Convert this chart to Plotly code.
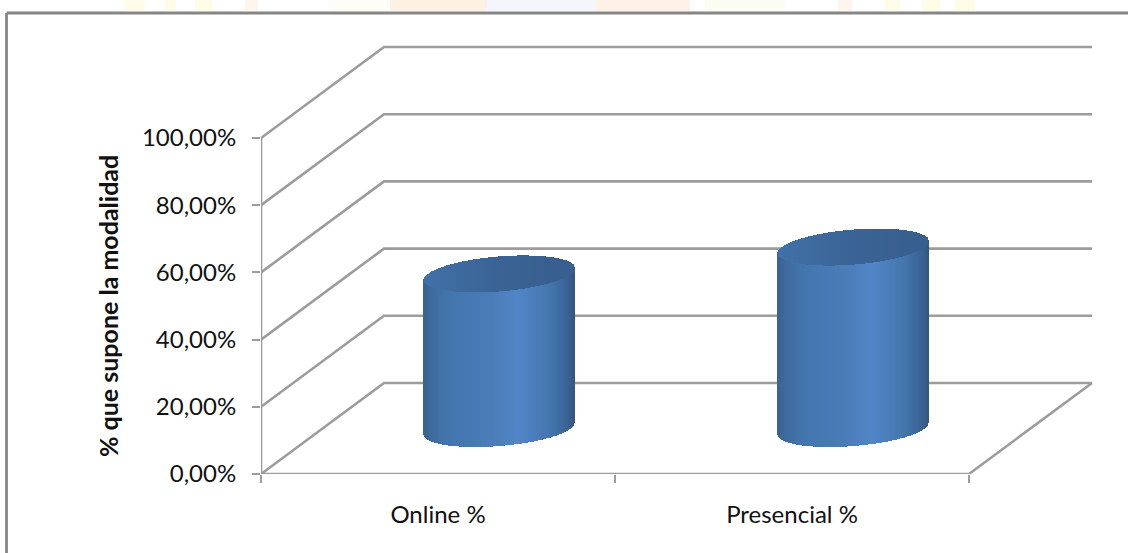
import numpy as np
import plotly.graph_objects as go

categories = ["Online %", "Presencial %"]
values = [46, 54]
y_ticks = [0, 20, 40, 60, 80, 100]
y_labels = ["0,00%", "20,00%", "40,00%", "60,00%", "80,00%", "100,00%"]
y_title = "% que supone la modalidad"

W, H = 1128, 553
# pixel frame of the plot
L, R, T, B = 261, 1100, 30, 474
PX_X = 354.0   # px per category
PX_Y = 3.36    # px per percent
DX = 123 / PX_X   # oblique depth offset
DY = 91 / PX_Y
A = 75 / PX_X
K = 6 / PX_Y
E = 17.5 / PX_Y
GRID = "#9c9c9c"
FONT = "Lato"
TEXT = "#111111"

x_range = [0, (R - L) / PX_X]
y_range = [0, (B - T) / PX_Y]
n_cat = len(categories)

body_stops = [(0, (60, 98, 142)), (.04, (62, 105, 154)), (.15, (67, 117, 173)), (.5, (76, 127, 187)),
              (.63, (82, 134, 200)), (.85, (68, 117, 172)), (.96, (58, 98, 146)), (1, (52, 88, 130))]
top_stops = [(0, (66, 114, 170)), (.3, (61, 105, 156)), (.6, (58, 98, 146)), (1, (56, 95, 142))]


def ramp(stops, s):
    ps = [p for p, _ in stops]
    return "rgb(%d,%d,%d)" % tuple(np.interp(s, ps, [c[i] for _, c in stops]) for i in range(3))


fig = go.Figure()

# walls and floor, on the main axes
for v in y_ticks:
    fig.add_trace(go.Scatter(x=[0, DX, n_cat + DX], y=[v, v + DY, v + DY], mode="lines",
                             line=dict(color=GRID, width=2.6), cliponaxis=False, hoverinfo="skip"))
fig.add_trace(go.Scatter(x=[0, 0], y=[0, y_ticks[-1]], mode="lines", line=dict(color=GRID, width=2.6),
                         cliponaxis=False, hoverinfo="skip"))
fig.add_trace(go.Scatter(x=[0, n_cat, n_cat + DX], y=[0, 0, DY], mode="lines",
                         line=dict(color=GRID, width=2.6), cliponaxis=False, hoverinfo="skip"))

# cylinders on an overlaid pair of axes, so they sit above the grid
u = np.linspace(-1, 1, 170)
step = A * (u[1] - u[0])
arc = np.sqrt(np.clip(1 - u ** 2, 0, 1))
for i, v in enumerate(values):
    cx = i + 0.5 + DX / 2
    cy0 = DY / 2
    cy1 = cy0 + v
    low0 = cy0 + K * u - E * arc
    low1 = cy1 + K * u - E * arc
    hi1 = cy1 + K * u + E * arc
    s = (u + 1) / 2
    fig.add_trace(go.Bar(x=cx + A * u, base=low0, y=low1 - low0 + 0.3, width=step * 1.4,
                         marker=dict(color=[ramp(body_stops, t) for t in s], line=dict(width=0)),
                         xaxis="x2", yaxis="y2", hoverinfo="skip"))
    fig.add_trace(go.Bar(x=cx + A * u, base=low1, y=hi1 - low1, width=step * 1.4,
                         marker=dict(color=[ramp(top_stops, t) for t in s], line=dict(width=0)),
                         xaxis="x2", yaxis="y2", hoverinfo="skip"))


def px(x):
    return (x - L) / (R - L)


def py(y):
    return (B - y) / (B - T)


shapes = []
# faint artwork showing above the frame
for x0, x1, c in [(125, 145, "#fefbe6"), (165, 176, "#fefbe6"), (195, 212, "#fefbe6"), (245, 258, "#fef6ec"),
                  (330, 390, "#fefdf8"), (390, 487, "#fdf1e4"), (487, 595, "#f4f5fd"), (595, 690, "#fdf1e8"),
                  (705, 785, "#fbfdf3"), (838, 852, "#fef5ec"), (885, 900, "#fefbe6"), (922, 940, "#fefbe6"),
                  (955, 975, "#fefbe6")]:
    shapes.append(dict(type="rect", xref="paper", yref="paper", x0=px(x0), x1=px(x1), y0=py(0), y1=py(11),
                       fillcolor=c, line=dict(width=0), layer="below"))
# chart frame
FR = "#858585"
shapes.append(dict(type="line", xref="paper", yref="paper", x0=px(6.5), x1=px(1130), y0=py(13), y1=py(13),
                   line=dict(color=FR, width=2.8)))
shapes.append(dict(type="line", xref="paper", yref="paper", x0=px(6.5), x1=px(6.5), y0=py(13), y1=py(556),
                   line=dict(color=FR, width=2.8)))

fig.update_layout(
    width=W, height=H,
    margin=dict(l=L, r=W - R, t=T, b=H - B, pad=0),
    paper_bgcolor="white", plot_bgcolor="rgba(0,0,0,0)",
    showlegend=False, barmode="overlay", bargap=0, hovermode=False,
    shapes=shapes,
    font=dict(family=FONT, color=TEXT, size=24),
    annotations=[dict(text="<b>" + y_title + "</b>", xref="paper", yref="paper", x=px(108), y=py(306),
                      xanchor="center", yanchor="middle", textangle=-90, showarrow=False,
                      font=dict(family=FONT, size=25, color=TEXT))],
    xaxis=dict(range=x_range, tickmode="array", tickvals=[i + 0.5 for i in range(n_cat)], ticktext=categories,
               ticks="", showgrid=False, zeroline=False, showline=False, ticklabelstandoff=24,
               tickfont=dict(family=FONT, size=24, color=TEXT),
               minor=dict(tickmode="array", tickvals=list(range(n_cat + 1)), ticks="outside", ticklen=8,
                          tickwidth=2.4, tickcolor=GRID, showgrid=False)),
    yaxis=dict(range=y_range, tickmode="array", tickvals=y_ticks, ticktext=y_labels, ticks="outside",
               ticklen=8, tickwidth=2.4, tickcolor=GRID, showgrid=False, zeroline=False, showline=False,
               ticklabelstandoff=11, tickfont=dict(family=FONT, size=24, color=TEXT)),
    xaxis2=dict(range=x_range, overlaying="x", visible=False),
    yaxis2=dict(range=y_range, overlaying="y", visible=False),
)

fig.write_html("out.html", config=dict(displayModeBar=False),
               post_script="document.body.style.margin='0';document.documentElement.style.overflow='hidden';")
